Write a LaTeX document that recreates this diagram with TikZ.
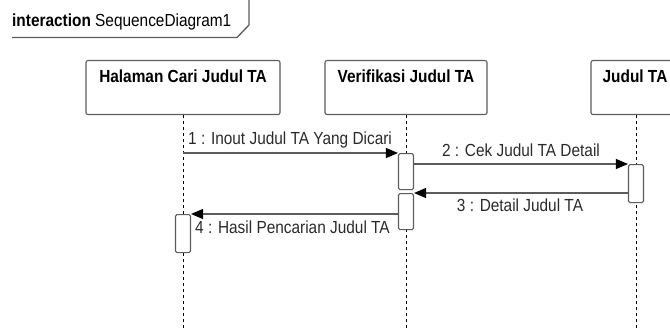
\documentclass[tikz,border=0pt]{standalone}
\usepackage{fontspec}
\setmainfont{Liberation Sans}[FakeStretch=0.88]
\usetikzlibrary{arrows.meta}
\definecolor{umlgray}{HTML}{5C5C5C}
\definecolor{umltext}{HTML}{2A2A2A}
\newcommand\msgfont{\fontsize{17.5}{20}\selectfont}
\newcommand\headfont{\fontsize{17.5}{20}\selectfont\bfseries}

\begin{document}
\begin{tikzpicture}[x=1pt, y=-1pt,
    every node/.style={inner sep=0pt, font=\msgfont, text=umltext},
    headbox/.style={draw=umlgray, line width=1.1pt, rounded corners=2pt,
      minimum height=54pt, anchor=north},
    headtxt/.style={font=\headfont, text=black, anchor=base},
    actbox/.style={draw=umlgray, fill=white, line width=1.1pt,
      rounded corners=1.5pt, minimum width=15pt, anchor=north},
    lifeline/.style={black, line width=0.9pt, dash pattern=on 3pt off 3pt},
    msgline/.style={umlgray, line width=1.1pt,
      -{Triangle[length=12pt,width=10pt,color=black]}},
    msglbl/.style={anchor=base},
  ]
  \useasboundingbox (0,0) rectangle (670,329);

  % frame tab
  \node[anchor=base west, text=black] (frametitle) at (12,27) {\textbf{interaction} SequenceDiagram1};
  \draw[umlgray, line width=1.3pt] (12,37.5) -- (237,37.5) -- (249,25) -- (249,0);

  % lifeline heads
  \node[headbox, minimum width=194pt] (cari)  at (183,60) {};
  \node[headbox, minimum width=162pt] (verif) at (406,60) {};
  \node[headbox, minimum width=90pt]  (judul) at (636,60) {};
  \node[headtxt] (cariT)  at (183,83) {Halaman Cari Judul TA};
  \node[headtxt] (verifT) at (406,83) {Verifikasi Judul TA};
  \node[headtxt] (judulT) at (635,83) {Judul TA};

  % lifelines
  \coordinate (cariE)  at (183,329);
  \coordinate (verifE) at (406,329);
  \coordinate (judulE) at (636,329);
  \draw[lifeline] (cari.south)  -- (cariE);
  \draw[lifeline] (verif.south) -- (verifE);
  \draw[lifeline] (judul.south) -- (judulE);

  % activations
  \node[actbox, minimum height=36pt] (verifA) at (406,153) {};
  \node[actbox, minimum height=36pt] (verifB) at (406,193) {};
  \node[actbox, minimum height=38pt] (judulA) at (636,164) {};
  \node[actbox, minimum height=38pt] (cariA)  at (183,214) {};

  % messages
  \draw[msgline] (cari.south |- verifA.north) -- (verifA.north west);
  \draw[msgline] (verifA.east |- judulA.north) -- (judulA.north west);
  \draw[msgline] (judulA.west |- verifB.north) -- (verifB.north east);
  \draw[msgline] (verifB.west |- cariA.north) -- (cariA.north east);

  \node[msglbl, anchor=base west] (m1) at (188,144) {1 : Inout Judul TA Yang Dicari};
  \node[msglbl] (m2) at (521,156) {2 : Cek Judul TA Detail};
  \node[msglbl] (m3) at (520,211) {3 : Detail Judul TA};
  \node[msglbl, anchor=base west] (m4) at (195,233) {4 : Hasil Pencarian Judul TA};
\end{tikzpicture}
\end{document}
